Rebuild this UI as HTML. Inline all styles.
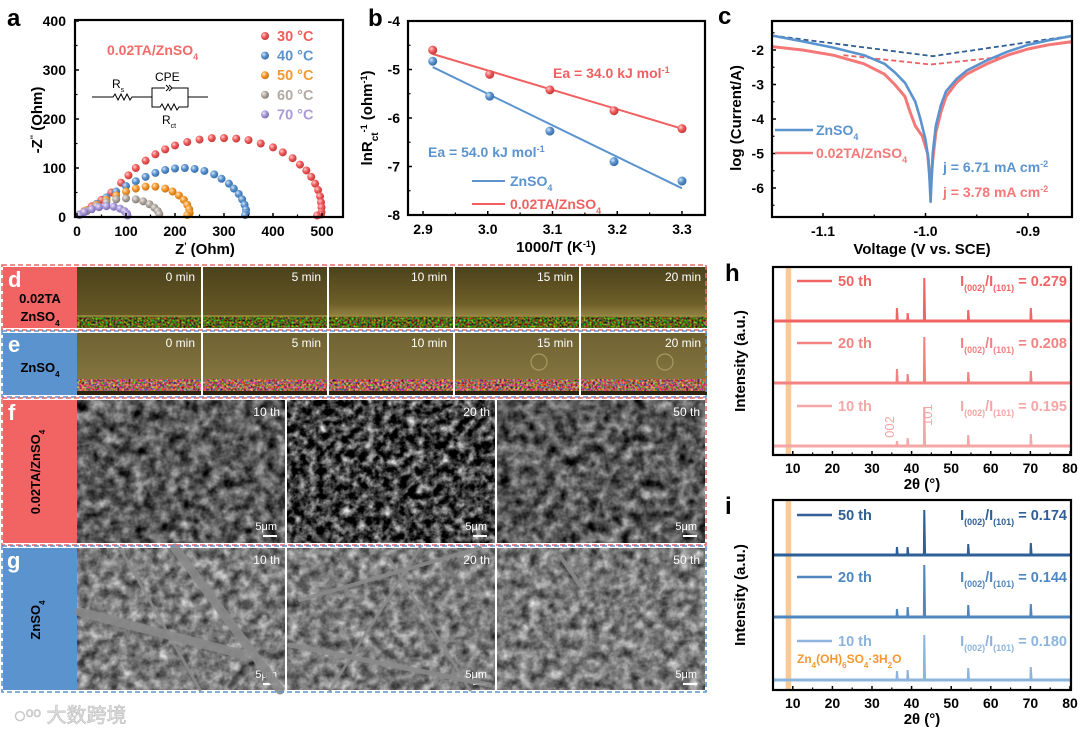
<!DOCTYPE html>
<html><head><meta charset="utf-8">
<style>
html,body{margin:0;padding:0;background:#fff;}
svg{display:block;font-family:"Liberation Sans","Noto Sans CJK SC",sans-serif;font-weight:bold;}
</style></head>
<body>
<svg id="fig" width="1080" height="731" viewBox="0 0 1080 731" xmlns="http://www.w3.org/2000/svg">
<defs>
  <radialGradient id="gR" cx="35%" cy="35%" r="65%"><stop offset="0" stop-color="#ffd0d0"/><stop offset="0.5" stop-color="#f25c5c"/><stop offset="1" stop-color="#c43a3a"/></radialGradient>
  <radialGradient id="gB" cx="35%" cy="35%" r="65%"><stop offset="0" stop-color="#d6e6f7"/><stop offset="0.5" stop-color="#5b93cf"/><stop offset="1" stop-color="#386fa8"/></radialGradient>
  <radialGradient id="gO" cx="35%" cy="35%" r="65%"><stop offset="0" stop-color="#ffe3c0"/><stop offset="0.5" stop-color="#f5992e"/><stop offset="1" stop-color="#c77312"/></radialGradient>
  <radialGradient id="gG" cx="35%" cy="35%" r="65%"><stop offset="0" stop-color="#eeeae6"/><stop offset="0.5" stop-color="#b2aaa2"/><stop offset="1" stop-color="#857d75"/></radialGradient>
  <radialGradient id="gP" cx="35%" cy="35%" r="65%"><stop offset="0" stop-color="#ebe6fb"/><stop offset="0.5" stop-color="#a99ad9"/><stop offset="1" stop-color="#7a6ab5"/></radialGradient>
  <linearGradient id="photoD" x1="0" y1="0" x2="0" y2="1"><stop offset="0" stop-color="#4c421c"/><stop offset="1" stop-color="#6e5f28"/></linearGradient>
  <linearGradient id="photoE" x1="0" y1="0" x2="0" y2="1"><stop offset="0" stop-color="#6f6232"/><stop offset="1" stop-color="#8a7a44"/></linearGradient>
  <linearGradient id="photoD2" x1="0" y1="0" x2="0" y2="1"><stop offset="0" stop-color="#4c421c"/><stop offset="0.6" stop-color="#6e5f28"/><stop offset="1" stop-color="#b9a560"/></linearGradient>
  <filter id="speckD" x="0" y="0" width="1" height="1" color-interpolation-filters="sRGB"><feTurbulence type="fractalNoise" baseFrequency="0.5" numOctaves="2" seed="3"/><feColorMatrix values="1.4 0 0 0 -0.35  0 1.5 0 0 -0.35  0 0 0.8 0 -0.3  0 0 0 0 1"/></filter>
  <filter id="speckE" x="0" y="0" width="1" height="1" color-interpolation-filters="sRGB"><feTurbulence type="fractalNoise" baseFrequency="0.45" numOctaves="2" seed="7"/><feColorMatrix values="1.8 0 0 0 -0.25  0 1.4 0 0 -0.3  0 0 1.4 0 -0.35  0 0 0 0 1"/></filter>
  <filter id="semF" x="0" y="0" width="1" height="1" color-interpolation-filters="sRGB"><feTurbulence type="fractalNoise" baseFrequency="0.09" numOctaves="3" seed="5"/><feColorMatrix values="0.7 0.7 0 0 -0.35  0.7 0.7 0 0 -0.35  0.7 0.7 0 0 -0.35  0 0 0 0 1"/></filter>
  <filter id="semF2" x="0" y="0" width="1" height="1" color-interpolation-filters="sRGB"><feTurbulence type="fractalNoise" baseFrequency="0.12" numOctaves="3" seed="11"/><feColorMatrix values="1.1 1.1 0 0 -0.85  1.1 1.1 0 0 -0.85  1.1 1.1 0 0 -0.85  0 0 0 0 1"/></filter>
  <filter id="semG" x="0" y="0" width="1" height="1" color-interpolation-filters="sRGB"><feTurbulence type="fractalNoise" baseFrequency="0.1" numOctaves="3" seed="9"/><feColorMatrix values="0.6 0.6 0 0 -0.12  0.6 0.6 0 0 -0.12  0.6 0.6 0 0 -0.12  0 0 0 0 1"/></filter>
</defs>
<g id="root"></g>
</svg>
<script>
// ---------- Panel a data (Nyquist) ----------
const aSeriesNames = ["30 °C","40 °C","50 °C","60 °C","70 °C"];
const a30x = [5,15,30,50,70,90,105,120,140,160,180,200,225,250,275,300,325,350,375,400,420,440,455,468,478,486,492,496,498,499,499,498,490];
const a30y = [5,12,22,35,50,70,85,100,115,128,138,146,153,158,161,161,160,157,150,142,132,120,107,95,82,68,55,42,30,20,10,5,3];
const a40x = [5,20,40,60,80,100,120,140,160,180,200,220,240,260,280,295,310,320,330,337,342,345,345,343];
const a40y = [5,14,27,40,52,63,73,82,90,96,99,100,98,94,87,78,68,58,47,36,25,15,8,4];
const a50x = [5,20,40,60,80,100,120,140,160,180,195,208,218,225,229,230,225];
const a50y = [5,14,25,35,44,52,58,62,62,58,52,44,35,25,16,8,4];
const a60x = [5,20,40,60,80,100,120,135,148,158,165,168];
const a60y = [5,12,22,30,36,38,36,32,26,19,12,6];
const a70x = [5,15,30,45,60,75,88,97,102,103];
const a70y = [4,10,16,20,22,21,17,12,7,3];
const aXTicks = [0,100,200,300,400,500];
const aYTicks = [0,100,200,300,400];

// ---------- Panel b data (Arrhenius) ----------
const bX = [2.915,3.003,3.096,3.195,3.300];
const bZn = [-4.83,-5.55,-6.27,-6.90,-7.30];
const bTA = [-4.60,-5.10,-5.42,-5.85,-6.22];
const bZnFit = [-4.95,-7.45];
const bTAFit = [-4.68,-6.22];
const bXTicks = [2.9,3.0,3.1,3.2,3.3];
const bYTicks = [-8,-7,-6,-5,-4];

// ---------- Panel c data (Tafel) ----------
const cZnV = [-1.15,-1.12,-1.09,-1.06,-1.04,-1.03,-1.02,-1.01,-1.005,-1.0,-0.997,-0.995,-0.993,-0.99,-0.985,-0.98,-0.97,-0.96,-0.94,-0.92,-0.90,-0.88,-0.855];
const cZnI = [-1.58,-1.75,-1.93,-2.15,-2.4,-2.65,-2.95,-3.5,-4.0,-4.6,-5.2,-6.4,-5.0,-4.2,-3.6,-3.2,-2.85,-2.6,-2.3,-2.05,-1.85,-1.72,-1.58];
const cTAV = [-1.15,-1.12,-1.09,-1.06,-1.04,-1.03,-1.02,-1.015,-1.01,-1.003,-0.998,-0.995,-0.993,-0.99,-0.985,-0.98,-0.97,-0.96,-0.94,-0.92,-0.90,-0.88,-0.855];
const cTAI = [-1.9,-2.0,-2.15,-2.4,-2.7,-3.0,-3.35,-3.8,-4.2,-4.5,-5.0,-6.0,-5.2,-4.4,-3.8,-3.35,-2.95,-2.7,-2.4,-2.15,-1.97,-1.85,-1.75];
const cZnFitV = [-1.15,-0.993,-0.855];
const cZnFitI = [-1.58,-2.18,-1.58];
const cTAFitV = [-1.08,-0.995,-0.925];
const cTAFitI = [-2.15,-2.42,-2.2];
const cXTicks = [-1.1,-1.0,-0.9];
const cYTicks = [-6,-5,-4,-3,-2];

// ---------- Panels h/i data (XRD) ----------
const xrdPeaks = [36.3,39.0,43.2,54.3,70.1];
const h50 = [13,8,43,11,13];
const h20 = [14,9,46,11,12];
const h10 = [5,8,39,11,12];
const i50 = [8,8,45,11,12];
const i20 = [8,10,52,12,13];
const i10 = [9,10,45,12,13];
const hRatios = ["0.279","0.208","0.195"];
const iRatios = ["0.174","0.144","0.180"];
const cycleLabels = ["50 th","20 th","10 th"];
const xrdXTicks = [10,20,30,40,50,60,70,80];

const NS="http://www.w3.org/2000/svg";
const root=document.getElementById('root');
function el(tag,attrs,parent){const e=document.createElementNS(NS,tag);for(const k in attrs)e.setAttribute(k,attrs[k]);(parent||root).appendChild(e);return e;}
function txt(x,y,s,size,fill,anchor,parent){const t=el('text',{x:x,y:y,'font-size':size,fill:fill||'#000','text-anchor':anchor||'start'},parent);t.innerHTML=s;return t;}
function lin(d0,d1,r0,r1){return v=>r0+(v-d0)*(r1-r0)/(d1-d0);}

function frame(x0,y0,x1,y1,name){
  const r=el('rect',{x:x0,y:y0,width:x1-x0,height:y1-y0,fill:'none',stroke:'#000','stroke-width':2.2});
  
  
}
function xAxis(ticks,sx,yb,minor,labelY,fmt,g){
  ticks.forEach(t=>{const x=sx(t);el('line',{x1:x,y1:yb,x2:x,y2:yb-4,stroke:'#000','stroke-width':1.5},g);
    const l=txt(x,labelY,fmt?fmt(t):t,14,'#000','middle',g);
    
    });
  (minor||[]).forEach(t=>{const x=sx(t);el('line',{x1:x,y1:yb,x2:x,y2:yb-2.5,stroke:'#000','stroke-width':1.2},g);});
}
function yAxis(ticks,sy,xl,minor,labelX,fmt,g){
  ticks.forEach(t=>{const y=sy(t);el('line',{x1:xl,y1:y,x2:xl+4,y2:y,stroke:'#000','stroke-width':1.5},g);
    const l=txt(labelX,y+5,fmt?fmt(t):t,14,'#000','end',g);
    
    });
  (minor||[]).forEach(t=>{const y=sy(t);el('line',{x1:xl,y1:y,x2:xl+2.5,y2:y,stroke:'#000','stroke-width':1.2},g);});
}
function rotText(x,y,s,size,name,fill){
  const t=el('text',{x:0,y:0,'font-size':size,fill:fill||'#000','text-anchor':'middle',transform:`translate(${x},${y}) rotate(-90)`});
  t.innerHTML=s;
  
  
  return t;
}
function panelLabel(x,y,s){const t=txt(x,y,s,24,'#000','start');}

// ================= Panel a =================
(function(){
  const g=el('g',{});
  
  
  const sx=lin(0,500,77,322), sy=lin(0,400,217,21);
  panelLabel(7,26,'a');
  const series=[[a30x,a30y,'gR'],[a40x,a40y,'gB'],[a50x,a50y,'gO'],[a60x,a60y,'gG'],[a70x,a70y,'gP']];
  series.forEach((s,k)=>{
    const sg=el('g',{},g);
    
    
    s[0].forEach((v,i)=>{
      const c=el('circle',{cx:sx(v),cy:sy(s[1][i]),r:4,fill:`url(#${s[2]})`},sg);
      
      
    });
  });
  frame(75,20,343,217,'plot-frame-a');
  xAxis(aXTicks,sx,217,[50,150,250,350,450],236,null,g);
  yAxis(aYTicks,sy,75,[50,150,250,350],66,null,g);
  const xl=txt(205,254,"Z<tspan baseline-shift='super' font-size='9'>'</tspan> (Ohm)",15,'#000','middle',g);
  
  rotText(42,120,"-Z<tspan baseline-shift='super' font-size='9'>''</tspan> (Ohm)",15,'y-axis-title-a');
  const t1=txt(107,55,"0.02TA/ZnSO<tspan baseline-shift='sub' font-size='9'>4</tspan>",14,'#f26a6a','start',g);
  
  const lc=['#f25c5c','#5b93cf','#f5992e','#b2aaa2','#a99ad9'];
  const lg=['gR','gB','gO','gG','gP'];
  aSeriesNames.forEach((n,i)=>{
    const y=37+i*19.6;
    el('circle',{cx:265,cy:y-1,r:4,fill:`url(#${lg[i]})`},g);
    const t=txt(277,y+4,n,14.5,lc[i],'start',g);
    
  });
  const cg=el('g',{fill:'none',stroke:'#000','stroke-width':1},g);
  
  el('polyline',{points:'92,97 113,97 115,94 118,100 121,94 124,100 127,94 130,100 132,97 152,97'},cg);
  el('polyline',{points:'152,97 152,88 165,88'},cg);
  el('polyline',{points:'166,85 169,88 166,91'},cg);
  el('polyline',{points:'169,85 172,88 169,91'},cg);
  el('polyline',{points:'172,88 188,88 188,107'},cg);
  el('polyline',{points:'152,97 152,107 160,107 162,104 165,110 168,104 171,110 174,104 177,110 179,107 188,107'},cg);
  el('line',{x1:188,y1:97,x2:208,y2:97},cg);
  const cw=el('g',{'font-weight':'normal'},g);
  txt(112,88,"R<tspan baseline-shift='sub' font-size='7'>s</tspan>",12,'#000','start',cw);
  txt(155,81,"CPE",12,'#000','start',cw);
  txt(162,124,"R<tspan baseline-shift='sub' font-size='7'>ct</tspan>",12,'#000','start',cw);
})();

// ================= Panel b =================
(function(){
  const g=el('g',{});
  
  
  const sx=lin(2.9,3.3,423,682), sy=lin(-8,-4,215,21);
  panelLabel(368,26,'b');
  const blue='#5b93cf', red='#f06060';
  const lb=el('line',{x1:sx(bX[0]),y1:sy(bZnFit[0]),x2:sx(bX[4]),y2:sy(bZnFit[1]),stroke:blue,'stroke-width':2},g);
  
  const lr=el('line',{x1:sx(bX[0]),y1:sy(bTAFit[0]),x2:sx(bX[4]),y2:sy(bTAFit[1]),stroke:red,'stroke-width':2},g);
  
  bX.forEach((x,i)=>{
    const p=el('circle',{cx:sx(x),cy:sy(bZn[i]),r:4.5,fill:'url(#gB)'},g);
    
    const q=el('circle',{cx:sx(x),cy:sy(bTA[i]),r:4.5,fill:'url(#gR)'},g);
    
  });
  frame(408,21,705,215,'plot-frame-b');
  xAxis(bXTicks,sx,215,[2.95,3.05,3.15,3.25],234,v=>v.toFixed(1),g);
  yAxis(bYTicks,sy,408,[-7.5,-6.5,-5.5,-4.5],400,null,g);
  const xl=txt(556,252,"1000/T (K<tspan baseline-shift='super' font-size='9'>-1</tspan>)",15,'#000','middle',g);
  
  rotText(372,118,"lnR<tspan baseline-shift='sub' font-size='10'>ct</tspan><tspan baseline-shift='super' font-size='9'>-1</tspan> (ohm<tspan baseline-shift='super' font-size='9'>-1</tspan>)",15,'y-axis-title-b');
  const e1=txt(553,78,"Ea = 34.0 kJ mol<tspan baseline-shift='super' font-size='9'>-1</tspan>",14,red,'start',g);
  
  const e2=txt(428,157,"Ea = 54.0 kJ mol<tspan baseline-shift='super' font-size='9'>-1</tspan>",14,blue,'start',g);
  
  el('line',{x1:472,y1:181,x2:505,y2:181,stroke:blue,'stroke-width':2},g);
  const l1=txt(510,186,"ZnSO<tspan baseline-shift='sub' font-size='9'>4</tspan>",14,blue,'start',g);
  
  el('line',{x1:472,y1:204,x2:505,y2:204,stroke:red,'stroke-width':2},g);
  const l2=txt(510,209,"0.02TA/ZnSO<tspan baseline-shift='sub' font-size='9'>4</tspan>",14,red,'start',g);
  
})();

// ================= Panel c =================
(function(){
  const g=el('g',{});
  
  
  const sx=lin(-1.1,-0.9,823,1028), sy=lin(-6,-2,188,50);
  panelLabel(718,24,'c');
  const blue='#5b93cf', red='#f57878';
  const pts=(X,Y)=>X.map((v,i)=>sx(v).toFixed(1)+','+sy(Y[i]).toFixed(1)).join(' ');
  const cp=el('clipPath',{id:'clipC'},g);el('rect',{x:772,y:21,width:300,height:196},cp);
  const cg=el('g',{'clip-path':'url(#clipC)'},g);
  const d1=el('polyline',{points:pts(cZnFitV,cZnFitI),fill:'none',stroke:'#2e5f96','stroke-width':1.8,'stroke-dasharray':'5,3'},cg);
  
  const d2=el('polyline',{points:pts(cTAFitV,cTAFitI),fill:'none',stroke:'#f06060','stroke-width':1.8,'stroke-dasharray':'5,3'},cg);
  
  const r=el('polyline',{points:pts(cTAV,cTAI),fill:'none',stroke:red,'stroke-width':3,'stroke-linejoin':'round'},cg);
  
  const b=el('polyline',{points:pts(cZnV,cZnI),fill:'none',stroke:blue,'stroke-width':2.6,'stroke-linejoin':'round'},cg);
  
  frame(772,21,1072,217,'plot-frame-c');
  xAxis(cXTicks,sx,217,[-1.05,-0.95],236,v=>v.toFixed(1),g);
  yAxis(cYTicks,sy,772,[-6.5,-5.5,-4.5,-3.5,-2.5,-1.5],764,null,g);
  const xl=txt(922,254,"Voltage (V vs. SCE)",15,'#000','middle',g);
  
  rotText(741,118,"log (Current/A)",15,'y-axis-title-c');
  el('line',{x1:775,y1:130,x2:813,y2:130,stroke:blue,'stroke-width':2.5},g);
  const l1=txt(816,135,"ZnSO<tspan baseline-shift='sub' font-size='9'>4</tspan>",14,blue,'start',g);
  
  el('line',{x1:775,y1:153,x2:813,y2:153,stroke:red,'stroke-width':2.5},g);
  const l2=txt(816,158,"0.02TA/ZnSO<tspan baseline-shift='sub' font-size='9'>4</tspan>",14,red,'start',g);
  
  const j1=txt(943,172,"j = 6.71 mA cm<tspan baseline-shift='super' font-size='9'>-2</tspan>",14,blue,'start',g);
  
  const j2=txt(943,197,"j = 3.78 mA cm<tspan baseline-shift='super' font-size='9'>-2</tspan>",14,red,'start',g);
  
})();

// ================= Panels d-g (images) =================
(function(){
  const g=el('g',{});
  
  
  const red='#f26363', blue='#5b93cf';
  [[267,328,red],[333,395,blue],[400,543,red],[548,690,blue]].forEach((r,i)=>{
    const b=el('rect',{x:3,y:r[0],width:74,height:r[1]-r[0],fill:r[2]},g);
    
  });
  txt(8,287,'d',22,'#fff','start',g);
  txt(8,352,'e',22,'#fff','start',g);
  txt(8,420,'f',22,'#fff','start',g);
  txt(7,568,'g',22,'#fff','start',g);
  txt(40,303,'0.02TA',13,'#000','middle',g);
  txt(40,321,"ZnSO<tspan baseline-shift='sub' font-size='8'>4</tspan>",13,'#000','middle',g);
  txt(40,372,"ZnSO<tspan baseline-shift='sub' font-size='8'>4</tspan>",13,'#000','middle',g);
  rotText(40,472,"0.02TA/ZnSO<tspan baseline-shift='sub' font-size='8'>4</tspan>",13,'label-f');
  rotText(40,620,"ZnSO<tspan baseline-shift='sub' font-size='8'>4</tspan>",13,'label-g');
  const times=['0 min','5 min','10 min','15 min','20 min'];
  times.forEach((t,i)=>{
    const x=77+i*126, w=i==4?126:124;
    const pd=el('rect',{x:x,y:267,width:w,height:61,fill:i>=2?'url(#photoD2)':'url(#photoD)'},g);
    
    el('rect',{x:x,y:316,width:w,height:12,filter:'url(#speckD)'},g);
    el('rect',{x:x,y:315,width:w,height:2,fill:'#9a8a40',opacity:0.8},g);
    txt(x+w-6,281,t,12,'#fff','end',g).setAttribute('font-weight','normal');
    const pe=el('rect',{x:x,y:333,width:w,height:62,fill:'url(#photoE)'},g);
    
    el('rect',{x:x,y:379,width:w,height:12,filter:'url(#speckE)'},g);
    el('rect',{x:x,y:391,width:w,height:4,fill:'#2a2410'},g);
    txt(x+w-6,347,t,12,'#fff','end',g).setAttribute('font-weight','normal');
    if(i>=3){el('circle',{cx:x+84,cy:362,r:8,fill:'none',stroke:'#a89a60','stroke-width':1.2},g);}
  });
  const cyc=['10 th','20 th','50 th'];
  const fF=['semF','semF2','semF'];
  cyc.forEach((c,i)=>{
    const x=77+i*210, w=208;
    const f=el('rect',{x:x,y:400,width:w,height:143,filter:`url(#${fF[i]})`},g);
    
    const gg=el('rect',{x:x,y:548,width:w,height:142,filter:'url(#semG)'},g);
    
    [400,548].forEach(y0=>{
      txt(x+w-5,y0+16,c,12,'#fff','end',g).setAttribute('font-weight','normal');
      txt(x+w-8,y0+130,'5μm',11,'#fff','end',g).setAttribute('font-weight','normal');
      el('line',{x1:x+w-22,y1:y0+136,x2:x+w-8,y2:y0+136,stroke:'#fff','stroke-width':2},g);
    });
  });
  const fib=el('g',{stroke:'#8a8a8a','stroke-linecap':'round',opacity:0.9},g);
  el('line',{x1:175,y1:548,x2:280,y2:690,'stroke-width':9},fib);
  el('line',{x1:80,y1:612,x2:245,y2:655,'stroke-width':9},fib);
  el('line',{x1:120,y1:548,x2:200,y2:690,'stroke-width':3},fib);
  el('line',{x1:300,y1:600,x2:480,y2:548,'stroke-width':4},fib);
  el('line',{x1:290,y1:645,x2:490,y2:685,'stroke-width':5},fib);
  el('line',{x1:330,y1:690,x2:420,y2:548,'stroke-width':3},fib);
  el('line',{x1:390,y1:560,x2:470,y2:690,'stroke-width':3},fib);
  el('line',{x1:560,y1:556,x2:580,y2:585,'stroke-width':4},fib);
  [202,328,454,580].forEach(x=>{el('line',{x1:x,y1:267,x2:x,y2:395,stroke:'#fff','stroke-width':2},g);});
  [286,496].forEach(x=>{el('line',{x1:x,y1:400,x2:x,y2:690,stroke:'#fff','stroke-width':2},g);});
  [[265,330,red],[331,397,blue],[398,545,red],[546,692,blue]].forEach(r=>{
    el('rect',{x:2,y:r[0],width:704,height:r[1]-r[0],fill:'none',stroke:r[2],'stroke-width':1.6,'stroke-dasharray':'5,3'},g);
  });
  const wm=txt(14,722,'◌ᵒᵒ 大数跨境',20,'#e2e2e2','start',g);
  
  wm.setAttribute('stroke','#bbbbbb');wm.setAttribute('stroke-width','0.6');wm.setAttribute('font-weight','normal');
})();

// ================= Panels h & i (XRD) =================
function xrdPanel(cfg){
  const g=el('g',{});
  
  
  const sx=lin(5,80,773,1070);
  const top=cfg.top, bot=cfg.bot;
  el('rect',{x:sx(8.2),y:top,width:sx(9.6)-sx(8.2),height:bot-top,fill:'#f8c48c',opacity:0.9},g);
  cfg.series.forEach((h,k)=>{
    const base=cfg.bases[k], col=cfg.colors[k];
    const sg=el('g',{},g);
    
    
    el('line',{x1:sx(5),y1:base,x2:sx(80),y2:base,stroke:col,'stroke-width':3},sg);
    xrdPeaks.forEach((p,i)=>{
      const pk=el('polygon',{points:`${sx(p)-1.4},${base} ${sx(p)-1},${base-h[i]} ${sx(p)+1},${base-h[i]} ${sx(p)+1.8},${base}`,fill:col},sg);
      
    });
    const ly=cfg.legY[k];
    el('line',{x1:797,y1:ly-5,x2:832,y2:ly-5,stroke:col,'stroke-width':2.5},g);
    const lt=txt(838,ly,cycleLabels[k],14.5,col,'start',g);
    
    const rt=txt(1067,ly,`I<tspan baseline-shift='sub' font-size='9'>(002)</tspan>/I<tspan baseline-shift='sub' font-size='9'>(101)</tspan> = ${cfg.ratios[k]}`,14.5,col,'end',g);
    
  });
  frame(773,top,1071,bot,'plot-frame-'+cfg.letter);
  xAxis(xrdXTicks,sx,bot,[15,25,35,45,55,65,75],bot+18,null,g);
  const xl=txt(922,bot+34,"2θ (°)",15,'#000','middle',g);
  
  rotText(745,(top+bot)/2,"Intensity (a.u.)",15,'y-axis-title-'+cfg.letter);
  panelLabel(725,top+14,cfg.letter);
  return {g,sx};
}
(function(){
  xrdPanel({name:'panel-h-xrd',letter:'h',top:267,bot:455,series:[h50,h20,h10],bases:[321,383,446],
    colors:['#f06464','#f28282','#f5a6a6'],legY:[286,348,411],ratios:hRatios});
  rotText(894,427,"002",13,'peak-label-002','#f5a6a6').setAttribute('font-weight','normal');
  rotText(932,415,"101",13,'peak-label-101','#f5a6a6').setAttribute('font-weight','normal');
  xrdPanel({name:'panel-i-xrd',letter:'i',top:500,bot:690,series:[i50,i20,i10],bases:[555,617,680],
    colors:['#2e5f96','#4f86bf','#8db4dc'],legY:[520,582,646],ratios:iRatios});
  const z=txt(797,663,"Zn<tspan baseline-shift='sub' font-size='8'>4</tspan>(OH)<tspan baseline-shift='sub' font-size='8'>6</tspan>SO<tspan baseline-shift='sub' font-size='8'>4</tspan>·3H<tspan baseline-shift='sub' font-size='8'>2</tspan>O",12,'#f5992e','start');
  
})();
</script>
</body></html>
